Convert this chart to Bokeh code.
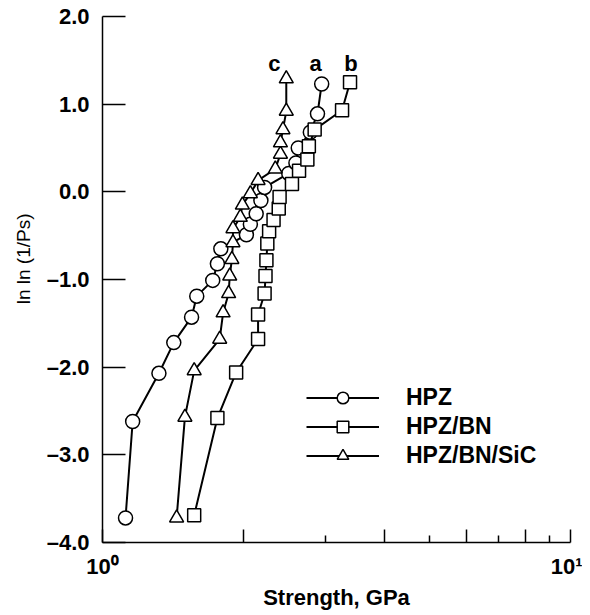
from bokeh.plotting import figure
from bokeh.models import FixedTicker, Legend, LegendItem, Label, Range1d, Title
from bokeh.embed import file_html
from bokeh.resources import INLINE

# ---- data ----
hpz_strength = [1.12, 1.16, 1.32, 1.42, 1.55, 1.59, 1.72, 1.76, 1.79, 2.03,
                2.07, 2.13, 2.18, 2.22, 2.50, 2.59, 2.62, 2.78, 2.88, 2.94]
hpz_lnln = [-3.72, -2.62, -2.07, -1.72, -1.43, -1.19, -1.01, -0.82, -0.65, -0.49,
            -0.37, -0.25, -0.10, 0.05, 0.21, 0.33, 0.50, 0.68, 0.89, 1.23]

bn_strength = [1.57, 1.76, 1.93, 2.15, 2.15, 2.22, 2.23, 2.24, 2.25, 2.27,
               2.32, 2.38, 2.39, 2.54, 2.63, 2.74, 2.76, 2.84, 3.25, 3.38]
bn_lnln = [-3.69, -2.58, -2.06, -1.68, -1.40, -1.16, -0.96, -0.78, -0.59, -0.45,
           -0.32, -0.19, -0.06, 0.09, 0.24, 0.37, 0.52, 0.71, 0.93, 1.25]

sic_strength = [1.44, 1.50, 1.57, 1.78, 1.81, 1.86, 1.87, 1.89, 1.90, 1.90,
                1.97, 1.99, 2.07, 2.15, 2.34, 2.40, 2.40, 2.43, 2.47, 2.47]
sic_lnln = [-3.72, -2.57, -2.04, -1.68, -1.38, -1.16, -0.96, -0.77, -0.58, -0.42,
            -0.29, -0.15, -0.02, 0.13, 0.26, 0.43, 0.56, 0.71, 0.92, 1.29]

series_names = ["HPZ", "HPZ/BN", "HPZ/BN/SiC"]
curve_letters = ["a", "b", "c"]

y_ticks = [-4, -3, -2, -1, 0, 1, 2]
y_tick_labels = ["\u20134.0", "\u20133.0", "\u20132.0", "\u20131.0", "0.0", "1.0", "2.0"]
x_major_ticks = [1, 2, 4, 6, 8, 10]
x_major_labels = ["10\u2070", "", "", "", "", "10\u00b9"]
x_minor_ticks = [3, 5, 7, 9]

FONT = "Liberation Sans"

p = figure(width=582, height=612, x_axis_type="log",
           x_range=Range1d(1, 10), y_range=Range1d(-4, 2),
           output_backend="svg", toolbar_location=None,
           min_border_left=101, min_border_right=12, min_border_top=16, min_border_bottom=70)
p.outline_line_color = None
p.xgrid.visible = False
p.ygrid.visible = False
p.background_fill_color = "white"

# axes
p.yaxis.ticker = FixedTicker(ticks=y_ticks)
p.yaxis.major_label_overrides = {t: l for t, l in zip(y_ticks, y_tick_labels)}
p.yaxis.major_tick_in = 23
p.yaxis.major_tick_out = 0
p.yaxis.minor_tick_in = 0
p.yaxis.minor_tick_out = 0
p.yaxis.major_label_standoff = 13

p.xaxis.ticker = FixedTicker(ticks=x_major_ticks, minor_ticks=x_minor_ticks)
p.xaxis.major_label_overrides = {t: l for t, l in zip(x_major_ticks, x_major_labels)}
p.xaxis.major_tick_in = 13
p.xaxis.major_tick_out = 0
p.xaxis.minor_tick_in = 7
p.xaxis.minor_tick_out = 0
p.xaxis.major_label_standoff = 11

for ax in (p.xaxis, p.yaxis):
    ax.axis_line_width = 1.5
    ax.major_tick_line_width = 1.5
    ax.minor_tick_line_width = 1.5
    ax.axis_line_color = "black"
    ax.major_tick_line_color = "black"
    ax.minor_tick_line_color = "black"
    ax.major_label_text_font = FONT
    ax.major_label_text_font_size = "22px"
    ax.major_label_text_font_style = "bold"
    ax.major_label_text_color = "black"

# axis titles
p.xaxis.axis_label = "Strength, GPa"
p.xaxis.axis_label_standoff = 3
p.xaxis.axis_label_text_font = FONT
p.xaxis.axis_label_text_font_size = "22px"
p.xaxis.axis_label_text_font_style = "bold"
p.xaxis.axis_label_text_color = "black"

ytitle = Title(text="ln ln (1/Ps)", align="right", offset=197, standoff=20,
               text_font=FONT, text_font_size="19px", text_font_style="normal",
               text_color="black")
p.add_layout(ytitle, "left")

# series
items = []
specs = [
    (hpz_strength, hpz_lnln, "circle", 14),
    (bn_strength, bn_lnln, "square", 13),
    (sic_strength, sic_lnln, "triangle", 14),
]
for (xs, ys, marker, size), name in zip(specs, series_names):
    ln = p.line(xs, ys, line_color="black", line_width=2)
    sc = p.scatter(xs, ys, marker=marker, size=size, fill_color="white",
                   line_color="black", line_width=1.5)
    items.append(LegendItem(label=name, renderers=[ln, sc]))

legend = Legend(items=items, location=(204, 72), glyph_width=73, glyph_height=29,
                label_height=29, spacing=0, padding=0, margin=0,
                label_standoff=27, border_line_color=None, background_fill_alpha=0,
                label_text_font=FONT, label_text_font_size="23px",
                label_text_font_style="bold", label_text_color="black")
p.add_layout(legend)

# curve letters above the last point of each series
last_x = [hpz_strength[-1], bn_strength[-1], sic_strength[-1]]
letter_offsets = [-6, 1, -12]
for letter, lx, off in zip(curve_letters, last_x, letter_offsets):
    p.add_layout(Label(x=lx, y=479, x_units="data", y_units="screen", x_offset=off,
                       text=letter, text_align="center", text_baseline="middle",
                       text_font=FONT, text_font_size="22px", text_font_style="bold",
                       text_color="black"))

open("out.html", "w").write(file_html(p, INLINE))
